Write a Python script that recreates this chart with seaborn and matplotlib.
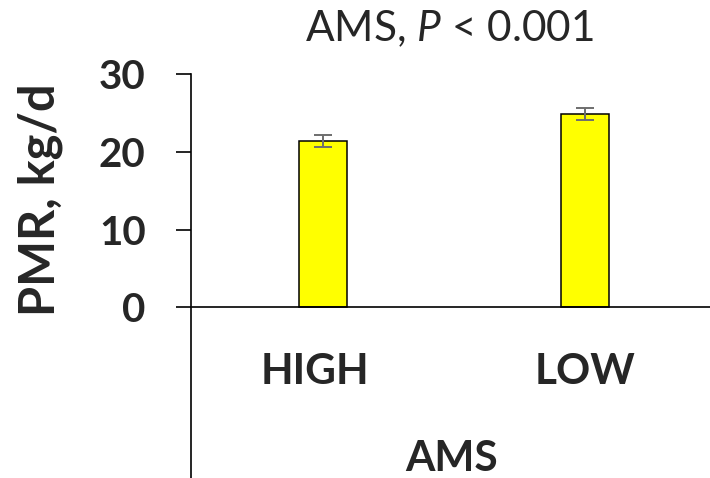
import matplotlib
matplotlib.use("Agg")
import matplotlib.pyplot as plt
import matplotlib.transforms as mtransforms
import seaborn as sns
import numpy as np
import pandas as pd

categories = ["HIGH", "LOW"]
pmr_means = [21.45, 24.88]
pmr_sem = [0.77, 0.79]
y_ticks = [0, 10, 20, 30]
title_text = "AMS, $\\mathit{P}$ < 0.001"
x_label = "AMS"
y_label = "PMR, kg/d"

sns.set_theme(style="white")
plt.rcParams["font.family"] = ["Lato", "DejaVu Sans"]
plt.rcParams["mathtext.fontset"] = "custom"
plt.rcParams["mathtext.rm"] = "Lato"
plt.rcParams["mathtext.it"] = "Lato:italic"

df = pd.DataFrame({"AMS": categories, "PMR": pmr_means})

fig = plt.figure(figsize=(7.1, 4.78), dpi=100)
ax = fig.add_axes([191.5 / 710, 0.0, 524.5 / 710, 403.7 / 478])

sns.barplot(data=df, x="AMS", y="PMR", ax=ax, color="#FFFF00",
            saturation=1, width=0.183, edgecolor="black", linewidth=1.1,
            errorbar=None)
pos = np.arange(len(categories))
ax.errorbar(pos, pmr_means, yerr=pmr_sem, fmt="none", ecolor="#6e6e6e",
            elinewidth=1.4, capsize=6.5, capthick=1.4, zorder=5)

ax.set_xlim(-0.5, 1.5)
ax.set_ylim(-21.98, 30)
ax.set_yticks(y_ticks)
ax.set_yticklabels([str(t) for t in y_ticks], fontsize=29, fontweight="bold")

ax.spines["top"].set_visible(False)
ax.spines["right"].set_visible(False)
ax.spines["bottom"].set_position(("data", 0))
for s in ["left", "bottom"]:
    ax.spines[s].set_color("black")
    ax.spines[s].set_linewidth(1.2)

ax.tick_params(axis="y", direction="out", length=11, width=1.2, color="black",
               pad=22, left=True)
ax.tick_params(axis="x", length=0, pad=33, labelsize=30.5)
xlabels = ax.get_xticklabels()
for lbl in xlabels:
    lbl.set_fontweight("bold")
# the first category label sits slightly left of its bar in the reference
shift = mtransforms.ScaledTranslation(-8 / 100, 0, fig.dpi_scale_trans)
xlabels[0].set_transform(xlabels[0].get_transform() + shift)

ax.set_xlabel(x_label, fontsize=30.5, fontweight="bold", va="bottom")
ax.xaxis.set_label_coords(0.495, 0.0)
ax.set_ylabel(y_label, fontsize=35, fontweight="bold", va="center")
ax.yaxis.set_label_coords(-0.289, 0.689)

ax.set_title(title_text, fontsize=30.5, pad=24, x=0.491)

fig.savefig("out.png", dpi=100)
